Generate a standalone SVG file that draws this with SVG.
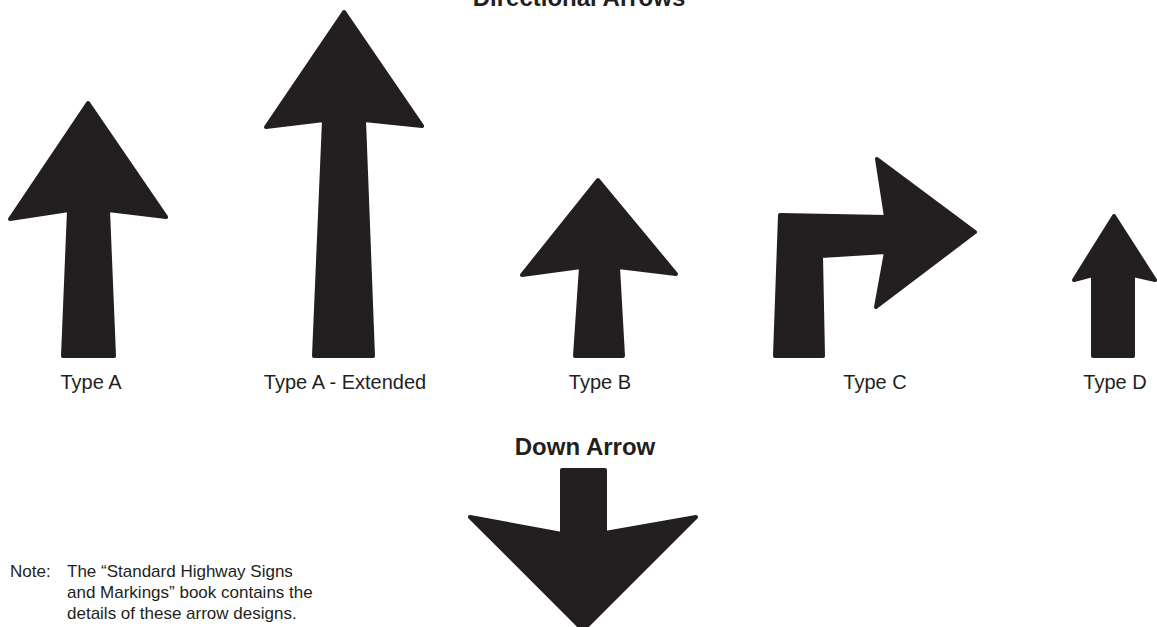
<svg xmlns="http://www.w3.org/2000/svg" width="1157" height="627" viewBox="0 0 1157 627">
<style>
.arrow{fill:#231f20;stroke:#231f20;stroke-width:4;stroke-linejoin:round}
.lbl{font-family:"Liberation Sans",Arial,sans-serif;font-size:20px;fill:#231f20;text-anchor:middle}
.ttl{font-family:"Liberation Sans",Arial,sans-serif;font-size:24px;font-weight:bold;fill:#231f20;text-anchor:middle}
.note{font-family:"Liberation Sans",Arial,sans-serif;font-size:17px;fill:#231f20}
</style>
<rect width="1157" height="627" fill="#ffffff"/>
<text class="ttl" x="579" y="6">Directional Arrows</text>
<g id="typeA">
<polygon class="arrow" points="88,103 166,217 108,210 114,356 63,356 69,210 10,219"/>
<text class="lbl" x="91" y="389">Type A</text>
</g>
<g id="typeAExtended">
<polygon class="arrow" points="344,12 422,126 364,120 373,356 314,356 324,120 266,127"/>
<text class="lbl" x="345" y="389">Type A - Extended</text>
</g>
<g id="typeB">
<polygon class="arrow" points="598,180 676,274 618,267 623,356 575,356 581,267 522,275"/>
<text class="lbl" x="600" y="389">Type B</text>
</g>
<g id="typeC">
<polygon class="arrow" points="780,215 886,217 877,159 975,232 876,307 886,252 821,256 823,356 775,356"/>
<text class="lbl" x="875" y="389">Type C</text>
</g>
<g id="typeD">
<polygon class="arrow" points="1114,216 1155,280 1133,275 1133,356 1093,356 1093,275 1074,280"/>
<text class="lbl" x="1115" y="389">Type D</text>
</g>
<g id="downArrow">
<text class="ttl" x="585" y="455">Down Arrow</text>
<polygon class="arrow" points="562,470 605,470 605,533 696,517 583,630 470,517 562,534"/>
</g>
<g id="note">
<text class="note" x="10" y="577">Note:</text>
<text class="note" x="67" y="577">The “Standard Highway Signs</text>
<text class="note" x="67" y="598">and Markings” book contains the</text>
<text class="note" x="67" y="619">details of these arrow designs.</text>
</g>
<g id="connectors"></g>
</svg>
